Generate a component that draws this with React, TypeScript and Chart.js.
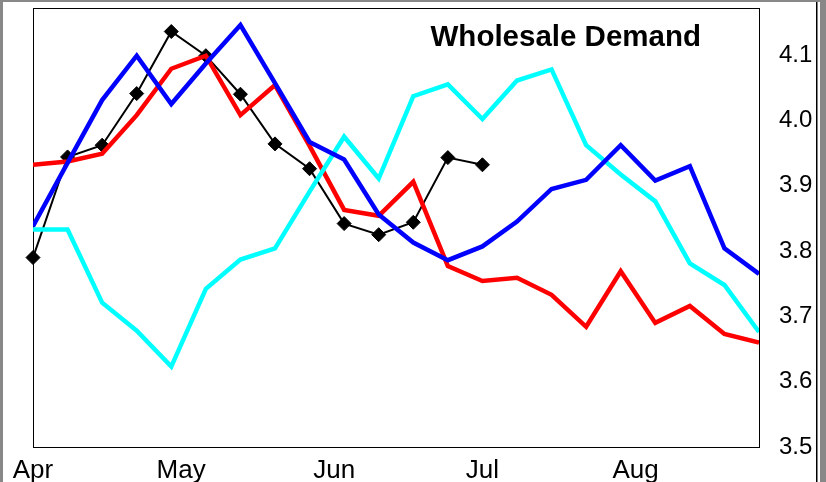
import React, { useEffect, useRef } from "react";
import { Chart, registerables } from "chart.js";

Chart.register(...registerables);

const monthLabels = ["Apr", "May", "Jun", "Jul", "Aug"];
const monthPositions = [0, 30 / 7, 61 / 7, 91 / 7, 122 / 7];
const yTicks = [3.5, 3.6, 3.7, 3.8, 3.9, 4.0, 4.1];

const blackSeries = [3.790, 3.944, 3.962, 4.041, 4.136, 4.099, 4.040, 3.964, 3.926, 3.842, 3.825, 3.844, 3.943, 3.932];
const redSeries = [3.932, 3.937, 3.949, 4.008, 4.079, 4.099, 4.008, 4.054, 3.961, 3.863, 3.854, 3.906, 3.777, 3.754, 3.759, 3.733, 3.684, 3.769, 3.690, 3.716, 3.673, 3.660];
const blueSeries = [3.838, 3.935, 4.031, 4.099, 4.025, 4.087, 4.146, 4.057, 3.967, 3.940, 3.856, 3.813, 3.786, 3.807, 3.845, 3.895, 3.909, 3.962, 3.908, 3.930, 3.804, 3.765];
const cyanSeries = [3.833, 3.833, 3.721, 3.678, 3.623, 3.742, 3.787, 3.804, 3.891, 3.975, 3.911, 4.037, 4.055, 4.002, 4.061, 4.078, 3.962, 3.917, 3.876, 3.781, 3.748, 3.676];

const titleText = "Wholesale Demand";
const FONT = "'Liberation Sans', Arial, Helvetica, sans-serif";

const toPoints = (arr: number[]) => arr.map((v, i) => ({ x: i, y: v }));

const zeroPad = (scale: any) => {
  scale.paddingTop = 0;
  scale.paddingBottom = 0;
  scale.paddingLeft = 0;
  scale.paddingRight = 0;
};

const framePlugin = {
  id: "framePlugin",
  beforeDatasetsDraw(chart: any) {
    const { ctx, chartArea: a } = chart;
    ctx.save();
    ctx.strokeStyle = "#000";
    ctx.lineWidth = 1;
    ctx.strokeRect(
      Math.round(a.left) + 0.5,
      Math.round(a.top) + 0.5,
      Math.round(a.right - a.left),
      Math.round(a.bottom - a.top)
    );
    ctx.restore();
  },
  afterDraw(chart: any) {
    const { ctx, width, height } = chart;
    ctx.save();
    ctx.fillStyle = "#000";
    ctx.font = `bold 29.5px ${FONT}`;
    ctx.textAlign = "right";
    ctx.textBaseline = "alphabetic";
    ctx.fillText(titleText, 701, 46);
    // outer frame
    ctx.fillStyle = "#888888";
    ctx.fillRect(0, 0, width, 2);
    ctx.fillRect(0, 0, 3, height);
    ctx.fillRect(820, 0, width - 820, height);
    ctx.fillStyle = "#000";
    ctx.fillRect(816, 2, 1.5, height - 2);
    ctx.restore();
  },
};

export default function App() {
  const canvasRef = useRef<HTMLCanvasElement | null>(null);

  useEffect(() => {
    if (!canvasRef.current) return;
    const chart = new Chart(canvasRef.current, {
      type: "line",
      data: {
        datasets: [
          {
            label: "Blue",
            data: toPoints(blueSeries),
            borderColor: "#0000FF",
            borderWidth: 4.5,
            pointRadius: 0,
            tension: 0,
            order: 1,
          },
          {
            label: "Cyan",
            data: toPoints(cyanSeries),
            borderColor: "#00FFFF",
            borderWidth: 4.5,
            pointRadius: 0,
            tension: 0,
            order: 2,
          },
          {
            label: "Red",
            data: toPoints(redSeries),
            borderColor: "#FF0000",
            borderWidth: 4.5,
            pointRadius: 0,
            tension: 0,
            order: 3,
          },
          {
            label: "Black",
            data: toPoints(blackSeries),
            borderColor: "#000000",
            borderWidth: 2,
            pointStyle: "rectRot",
            pointRadius: 7,
            pointBackgroundColor: "#000000",
            pointBorderColor: "#000000",
            pointBorderWidth: 1,
            tension: 0,
            clip: false,
            order: 4,
          },
        ],
      },
      options: {
        responsive: false,
        animation: false,
        events: [],
        layout: { padding: { left: 33, top: 5, right: 0, bottom: 0 } },
        plugins: {
          legend: { display: false },
          tooltip: { enabled: false },
          title: { display: false },
        },
        scales: {
          x: {
            type: "linear",
            min: 0,
            max: 21,
            grid: { display: false, drawTicks: false },
            border: { display: false },
            afterBuildTicks: (scale: any) => {
              scale.ticks = monthPositions.map((v) => ({ value: v }));
            },
            afterFit: (scale: any) => {
              scale.height = 35;
              zeroPad(scale);
            },
            ticks: {
              autoSkip: false,
              maxRotation: 0,
              minRotation: 0,
              padding: 8,
              color: "#000",
              font: { family: FONT, size: 26 },
              callback: (_v: any, i: number) => monthLabels[i],
            },
          },
          y: {
            type: "linear",
            position: "right",
            min: 3.5,
            max: 4.172,
            grid: { display: false, drawTicks: false },
            border: { display: false },
            afterBuildTicks: (scale: any) => {
              scale.ticks = yTicks.map((v) => ({ value: v }));
            },
            afterFit: (scale: any) => {
              scale.width = 67;
              zeroPad(scale);
            },
            ticks: {
              padding: 20,
              color: "#000",
              font: { family: FONT, size: 24 },
              callback: (v: any) => Number(v).toFixed(1),
            },
          },
        },
      },
      plugins: [framePlugin],
    });
    return () => chart.destroy();
  }, []);

  return (
    <div
      style={{
        position: "fixed",
        left: 0,
        top: 0,
        width: 826,
        height: 482,
        background: "#fff",
        overflow: "hidden",
      }}
    >
      <canvas ref={canvasRef} width={826} height={482} style={{ width: 826, height: 482, display: "block" }} />
    </div>
  );
}
